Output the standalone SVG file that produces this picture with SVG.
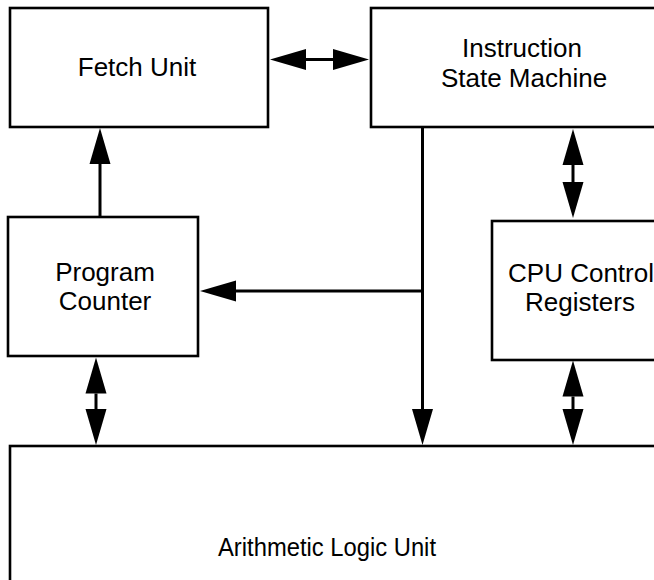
<svg xmlns="http://www.w3.org/2000/svg" width="654" height="580" viewBox="0 0 654 580">
<style>
.box{fill:#fff;stroke:#000;stroke-width:2.6}
.lbl{font-family:"Liberation Sans",Arial,Helvetica,sans-serif;font-size:26px;fill:#000;text-anchor:middle}
.conn{stroke:#000;stroke-width:3;fill:none}
</style>
<defs>
<marker id="ah" markerUnits="userSpaceOnUse" markerWidth="38" markerHeight="22" viewBox="0 -11 38 22" refX="0" refY="0" orient="auto-start-reverse" overflow="visible">
<path d="M0,-10.5 L36,0 L0,10.5 z" fill="#000"/>
</marker>
</defs>
<rect width="654" height="580" fill="#fff"/>
<g id="fetch-unit">
<rect class="box" x="10" y="8" width="258" height="119"/>
<text class="lbl" x="137" y="76">Fetch Unit</text>
</g>
<g id="instruction-state-machine">
<rect class="box" x="371" y="8" width="300" height="119"/>
<text class="lbl" x="522" y="57">Instruction</text>
<text class="lbl" x="524" y="87">State Machine</text>
</g>
<g id="program-counter">
<rect class="box" x="8" y="217" width="190" height="139"/>
<text class="lbl" x="105" y="281">Program</text>
<text class="lbl" x="105" y="310">Counter</text>
</g>
<g id="cpu-control-registers">
<rect class="box" x="492" y="221" width="180" height="139"/>
<text class="lbl" x="581" y="282">CPU Control</text>
<text class="lbl" x="580" y="311">Registers</text>
</g>
<g id="alu">
<rect class="box" x="10" y="446" width="670" height="160"/>
<text class="lbl" x="327" y="556" textLength="218" lengthAdjust="spacingAndGlyphs">Arithmetic Logic Unit</text>
</g>
<g id="connectors">
<line class="conn" x1="306" y1="59.5" x2="333" y2="59.5" marker-start="url(#ah)" marker-end="url(#ah)"/>
<line class="conn" x1="100" y1="217" x2="100" y2="164" marker-end="url(#ah)"/>
<line class="conn" x1="422.5" y1="126" x2="422.5" y2="409" marker-end="url(#ah)"/>
<line class="conn" x1="422.5" y1="291" x2="236" y2="291" marker-end="url(#ah)"/>
<line class="conn" x1="573" y1="165" x2="573" y2="182" marker-start="url(#ah)" marker-end="url(#ah)"/>
<line class="conn" x1="573" y1="396.5" x2="573" y2="409" marker-start="url(#ah)" marker-end="url(#ah)"/>
<line class="conn" x1="96" y1="393.5" x2="96" y2="409" marker-start="url(#ah)" marker-end="url(#ah)"/>
</g>
</svg>
